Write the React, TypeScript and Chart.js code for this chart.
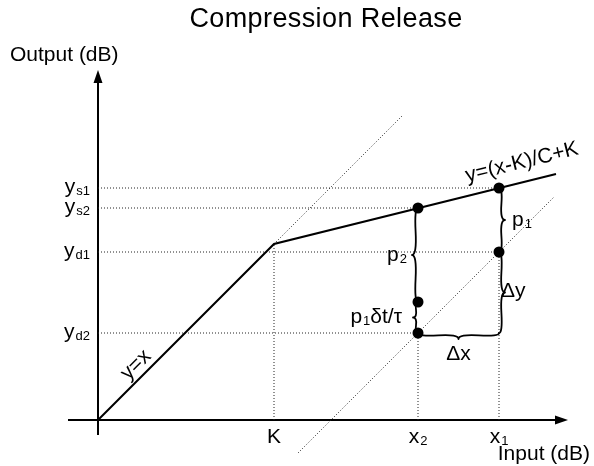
import { useEffect, useRef } from 'react';
import { Chart, registerables } from 'chart.js';

Chart.register(...registerables);

const FONT = '"Liberation Sans", Arial, Helvetica, sans-serif';

// Threshold and the two input levels of the release example
const K = 176;
const X1 = 401;
const X2 = 320;

// Static compression curve: y = x up to K, then (x-K)/C+K
const curveX = [0, K, 458];
const curveY = [0, K, 246];

// Output levels marked on the vertical axis
const yTickValues = [232, 212, 168, 87];
const yTickMain = ['y', 'y', 'y', 'y'];
const yTickSub = ['s1', 's2', 'd1', 'd2'];

// Input levels marked on the horizontal axis
const xTickValues = [K, X2, X1];
const xTickMain = ['K', 'x', 'x'];
const xTickSub = ['', '2', '1'];

// Marked states: (x1,ys1), (x2,ys2), (x1,yd1), (x2,yd2), (x2, yd2 + p1·δt/τ)
const markerX = [X1, X2, X1, X2, X2];
const markerY = [232, 212, 168, 87, 118];

// Dotted guide segments [x0, y0, x1, y1]
const guides: number[][] = [
  [0, 232, X1, 232],
  [0, 212, X2, 212],
  [0, 168, X1, 168],
  [0, 87, X2, 87],
  [K, 0, K, K],
  [X2, 0, X2, 87],
  [X1, 0, X1, 168],
  [K, K, 305, 305],
  [200, -33, 456, 223],
];

// Braces: start point, end point, bulge
const braceFrom = [
  [X2, 212],
  [X2, 118],
  [X1, 168],
  [X1, 87],
  [X2, 87],
];
const braceTo = [
  [X2, 118],
  [X2, 87],
  [X1, 232],
  [X1, 168],
  [X1, 87],
];
const braceWidth = [6, 5, 6, 6, 6];

const AXIS_X = [-30, 470];
const AXIS_Y = [-15, 350];

function drawBrace(
  ctx: CanvasRenderingContext2D,
  x1: number,
  y1: number,
  x2: number,
  y2: number,
  w: number,
  q = 0.6
) {
  let dx = x1 - x2;
  let dy = y1 - y2;
  const len = Math.hypot(dx, dy);
  dx /= len;
  dy /= len;
  const qx1 = x1 + q * w * dy;
  const qy1 = y1 - q * w * dx;
  const qx2 = x1 - 0.25 * len * dx + (1 - q) * w * dy;
  const qy2 = y1 - 0.25 * len * dy - (1 - q) * w * dx;
  const tx = x1 - 0.5 * len * dx + w * dy;
  const ty = y1 - 0.5 * len * dy - w * dx;
  const qx3 = x2 + q * w * dy;
  const qy3 = y2 - q * w * dx;
  const qx4 = x1 - 0.75 * len * dx + (1 - q) * w * dy;
  const qy4 = y1 - 0.75 * len * dy - (1 - q) * w * dx;
  ctx.beginPath();
  ctx.moveTo(x1, y1);
  ctx.quadraticCurveTo(qx1, qy1, qx2, qy2);
  ctx.quadraticCurveTo(2 * qx2 - qx1, 2 * qy2 - qy1, tx, ty);
  ctx.moveTo(x2, y2);
  ctx.quadraticCurveTo(qx3, qy3, qx4, qy4);
  ctx.quadraticCurveTo(2 * qx4 - qx3, 2 * qy4 - qy3, tx, ty);
  ctx.stroke();
}

// Text with a smaller subscript; y is the baseline
function drawSub(
  ctx: CanvasRenderingContext2D,
  main: string,
  sub: string,
  x: number,
  y: number,
  align: 'left' | 'center' | 'right',
  size = 21,
  subSize = 13
) {
  ctx.textAlign = 'left';
  ctx.textBaseline = 'alphabetic';
  ctx.font = `${size}px ${FONT}`;
  const w1 = ctx.measureText(main).width;
  ctx.font = `${subSize}px ${FONT}`;
  const w2 = sub ? ctx.measureText(sub).width : 0;
  const total = w1 + w2 + (sub ? 1 : 0);
  const start = align === 'right' ? x - total : align === 'center' ? x - total / 2 : x;
  ctx.font = `${size}px ${FONT}`;
  ctx.fillText(main, start, y);
  if (sub) {
    ctx.font = `${subSize}px ${FONT}`;
    ctx.fillText(sub, start + w1 + 1, y + 2);
  }
  return start + total;
}

const diagramPlugin = {
  id: 'diagram',
  beforeDatasetsDraw(chart: any) {
    const { ctx } = chart;
    const xs = chart.scales.x;
    const ys = chart.scales.y;
    const px = (v: number) => xs.getPixelForValue(v);
    const py = (v: number) => ys.getPixelForValue(v);
    ctx.save();
    ctx.strokeStyle = '#000';
    ctx.fillStyle = '#000';
    ctx.lineWidth = 2;
    ctx.lineCap = 'butt';
    const ox = px(0);
    const oy = py(0);
    // horizontal axis with arrow
    const xEnd = px(AXIS_X[1]);
    ctx.beginPath();
    ctx.moveTo(px(AXIS_X[0]), oy);
    ctx.lineTo(xEnd - 8, oy);
    ctx.stroke();
    ctx.beginPath();
    ctx.moveTo(xEnd, oy);
    ctx.lineTo(xEnd - 13, oy - 4.5);
    ctx.lineTo(xEnd - 13, oy + 4.5);
    ctx.closePath();
    ctx.fill();
    // vertical axis with arrow
    const yEnd = py(AXIS_Y[1]);
    ctx.beginPath();
    ctx.moveTo(ox, py(AXIS_Y[0]));
    ctx.lineTo(ox, yEnd + 8);
    ctx.stroke();
    ctx.beginPath();
    ctx.moveTo(ox, yEnd);
    ctx.lineTo(ox - 4.5, yEnd + 13);
    ctx.lineTo(ox + 4.5, yEnd + 13);
    ctx.closePath();
    ctx.fill();

    // braces
    ctx.lineWidth = 1.8;
    ctx.lineCap = 'round';
    ctx.lineJoin = 'round';
    braceFrom.forEach((f, i) => {
      const t = braceTo[i];
      drawBrace(ctx, px(f[0]), py(f[1]), px(t[0]), py(t[1]), braceWidth[i]);
    });
    ctx.restore();
  },
  afterDatasetsDraw(chart: any) {
    const { ctx } = chart;
    const xs = chart.scales.x;
    const ys = chart.scales.y;
    const px = (v: number) => xs.getPixelForValue(v);
    const py = (v: number) => ys.getPixelForValue(v);
    ctx.save();
    ctx.fillStyle = '#000';

    // title
    ctx.font = `27px ${FONT}`;
    (ctx as any).letterSpacing = '0.4px';
    ctx.textAlign = 'center';
    ctx.textBaseline = 'alphabetic';
    ctx.fillText('Compression Release', 326, 27);
    (ctx as any).letterSpacing = '0px';

    // axis titles
    ctx.font = `21px ${FONT}`;
    ctx.textAlign = 'left';
    ctx.fillText('Output (dB)', 10, 61);
    ctx.textAlign = 'right';
    ctx.fillText('Input (dB)', 590, 460);

    // tick labels
    const ox = px(0);
    const oy = py(0);
    yTickValues.forEach((v, i) => {
      drawSub(ctx, yTickMain[i], yTickSub[i], ox - 8, py(v) + 5, 'right');
    });
    xTickValues.forEach((v, i) => {
      drawSub(ctx, xTickMain[i], xTickSub[i], px(v), oy + 23, 'center');
    });

    // curve labels
    ctx.font = `21px ${FONT}`;
    ctx.textAlign = 'center';
    ctx.textBaseline = 'middle';
    ctx.save();
    ctx.translate(px(40) - 2, py(40) - 15);
    ctx.rotate(-Math.PI / 4);
    ctx.fillText('y=x', 0, 0);
    ctx.restore();

    const a = Math.atan2(py(curveY[2]) - py(curveY[1]), px(curveX[2]) - px(curveX[1]));
    const lx = 424;
    const ly = curveY[1] + ((curveY[2] - curveY[1]) * (lx - curveX[1])) / (curveX[2] - curveX[1]);
    ctx.save();
    ctx.translate(px(lx), py(ly) - 20);
    ctx.rotate(a);
    ctx.fillText('y=(x-K)/C+K', 0, 0);
    ctx.restore();

    // brace labels
    drawSub(ctx, 'p', '1', px(X1) + 13, py(200) + 6, 'left');
    drawSub(ctx, 'p', '2', px(X2) - 31, py(165) + 6, 'left');
    ctx.font = `21px ${FONT}`;
    ctx.textAlign = 'left';
    ctx.textBaseline = 'alphabetic';
    ctx.fillText('\u0394y', px(X1) + 2, py(128) + 5);
    ctx.textAlign = 'center';
    ctx.fillText('\u0394x', px((X1 + X2) / 2), py(87) + 27);
    // p1·δt/τ, right-aligned against its brace
    ctx.font = `21px ${FONT}`;
    const tail = '\u03b4t/\u03c4';
    const tailW = ctx.measureText(tail).width;
    const right = px(X2) - 16;
    const pW = ctx.measureText('p').width;
    ctx.font = `13px ${FONT}`;
    const oneW = ctx.measureText('1').width + 1;
    const start = right - tailW - pW - oneW;
    const end = drawSub(ctx, 'p', '1', start, py(102) + 5, 'left');
    ctx.font = `21px ${FONT}`;
    ctx.textAlign = 'left';
    ctx.fillText(tail, end, py(102) + 5);
    ctx.restore();
  },
};

export default function App() {
  const ref = useRef<HTMLCanvasElement>(null);

  useEffect(() => {
    const canvas = ref.current;
    if (!canvas) return;
    const guideSets = guides.map((g) => ({
      data: [
        { x: g[0], y: g[1] },
        { x: g[2], y: g[3] },
      ],
      showLine: true,
      borderColor: '#222',
      borderWidth: 1,
      borderDash: [1, 2],
      pointRadius: 0,
      order: 3,
    }));
    const chart = new Chart(canvas, {
      type: 'scatter',
      data: {
        datasets: [
          {
            data: markerX.map((x, i) => ({ x, y: markerY[i] })),
            showLine: false,
            pointRadius: 5.5,
            pointBackgroundColor: '#000',
            pointBorderWidth: 0,
            order: 1,
          },
          {
            data: curveX.map((x, i) => ({ x, y: curveY[i] })),
            showLine: true,
            borderColor: '#000',
            borderWidth: 2,
            pointRadius: 0,
            order: 2,
          },
          ...guideSets,
        ] as any,
      },
      options: {
        animation: false,
        responsive: false,
        maintainAspectRatio: false,
        devicePixelRatio: 1,
        layout: { padding: 0, autoPadding: false },
        events: [],
        scales: {
          x: { type: 'linear', min: -98, max: 496, display: false },
          y: { type: 'linear', min: -46, max: 420, display: false },
        },
        plugins: {
          legend: { display: false },
          title: { display: false },
          tooltip: { enabled: false },
        },
      },
      plugins: [diagramPlugin],
    });
    return () => chart.destroy();
  }, []);

  return (
    <div style={{ position: 'fixed', left: 0, top: 0, width: 594, height: 466, background: '#fff' }}>
      <canvas ref={ref} width={594} height={466} style={{ display: 'block' }} />
    </div>
  );
}
